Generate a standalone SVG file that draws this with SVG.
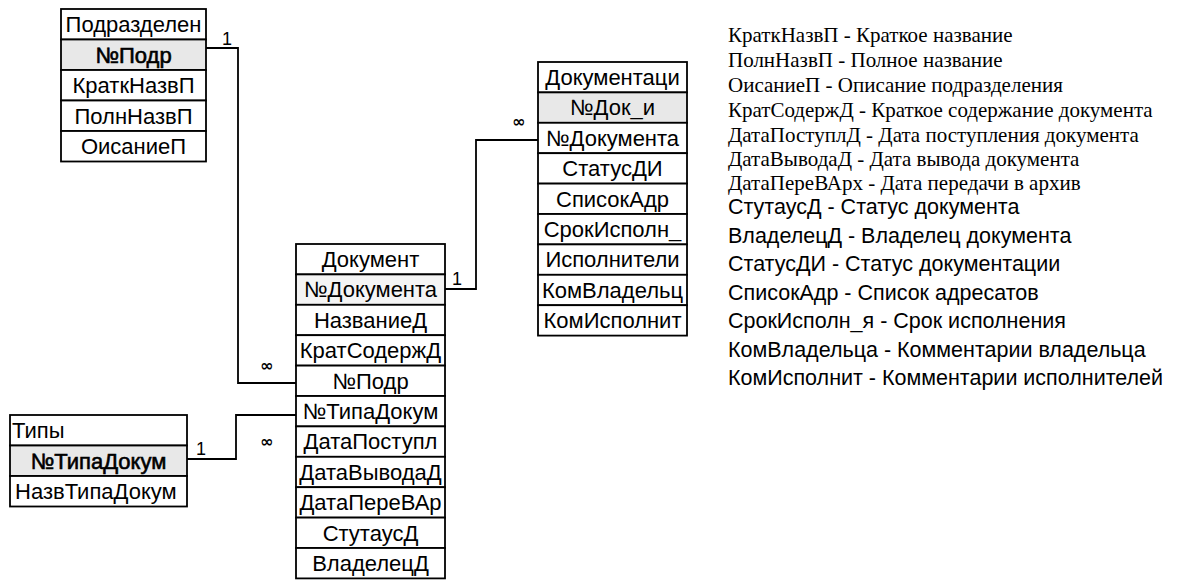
<svg xmlns="http://www.w3.org/2000/svg" width="1187" height="581" viewBox="0 0 1187 581">
<style>
.c{fill:#fff;stroke:#000;stroke-width:1.8}
.k{fill:#e8e8e8;stroke:#000;stroke-width:1.8}
.k2{fill:#f4f4f4;stroke:#000;stroke-width:1.8}
.t{font-family:"Liberation Sans","DejaVu Sans",sans-serif;font-size:22px;fill:#000;text-anchor:middle}
.l{text-anchor:start}
.b{stroke:#000;stroke-width:0.6}
.ln{fill:none;stroke:#000;stroke-width:1.8}
.m{font-family:"Liberation Sans",sans-serif;font-size:18px;fill:#000}
.inf{font-family:"DejaVu Sans",sans-serif;font-size:16px;fill:#000;font-weight:bold}
.s{font-family:"Liberation Serif",serif;font-size:21px;fill:#000}
.a{font-family:"Liberation Sans",sans-serif;font-size:21.5px;fill:#000}
</style>
<rect width="1187" height="581" fill="#fff"/>
<g id="connectors">
<path class="ln" d="M206,48 H238 V383 H296"/>
<path class="ln" d="M445,289 H476 V140 H538"/>
<path class="ln" d="M187,459 H236 V415 H296"/>
<text class="m" x="222" y="45">1</text>
<text class="inf" x="260" y="371">∞</text>
<text class="m" x="452" y="285">1</text>
<text class="inf" x="512" y="127">∞</text>
<text class="m" x="196" y="455">1</text>
<text class="inf" x="260" y="447">∞</text>
</g>
<g id="node-podrazd">
<rect class="c" x="61" y="9" width="145" height="30.5"/>
<rect class="k" x="61" y="39.5" width="145" height="30.5"/>
<rect class="c" x="61" y="70" width="145" height="30.5"/>
<rect class="c" x="61" y="100.5" width="145" height="30.5"/>
<rect class="c" x="61" y="131" width="145" height="30.5"/>
<text class="t" x="133.5" y="32">Подразделен</text>
<text class="t b" x="133.5" y="62.5">№Подр</text>
<text class="t" x="133.5" y="93">КраткНазвП</text>
<text class="t" x="133.5" y="123.5">ПолнНазвП</text>
<text class="t" x="133.5" y="154">ОисаниеП</text>
</g>
<g id="node-dokumentaciya">
<rect class="c" x="538" y="62" width="149" height="30.4"/>
<rect class="k" x="538" y="92.4" width="149" height="30.4"/>
<rect class="c" x="538" y="122.8" width="149" height="30.4"/>
<rect class="c" x="538" y="153.2" width="149" height="30.4"/>
<rect class="c" x="538" y="183.6" width="149" height="30.4"/>
<rect class="c" x="538" y="214" width="149" height="30.4"/>
<rect class="c" x="538" y="244.4" width="149" height="30.4"/>
<rect class="c" x="538" y="274.8" width="149" height="30.4"/>
<rect class="c" x="538" y="305.2" width="149" height="30.4"/>
<text class="t" x="612.5" y="85">Документаци</text>
<text class="t" x="612.5" y="115.4">№Док_и</text>
<text class="t" x="612.5" y="145.8">№Документа</text>
<text class="t" x="612.5" y="176.2">СтатусДИ</text>
<text class="t" x="612.5" y="206.6">СписокАдр</text>
<text class="t" x="612.5" y="237">СрокИсполн_</text>
<text class="t" x="612.5" y="267.4">Исполнители</text>
<text class="t" x="612.5" y="297.8">КомВладельц</text>
<text class="t" x="612.5" y="328.2">КомИсполнит</text>
</g>
<g id="node-dokument">
<rect class="c" x="296" y="244" width="149" height="30.4"/>
<rect class="k2" x="296" y="274.4" width="149" height="30.4"/>
<rect class="c" x="296" y="304.8" width="149" height="30.4"/>
<rect class="c" x="296" y="335.2" width="149" height="30.4"/>
<rect class="c" x="296" y="365.6" width="149" height="30.4"/>
<rect class="c" x="296" y="396" width="149" height="30.4"/>
<rect class="c" x="296" y="426.4" width="149" height="30.4"/>
<rect class="c" x="296" y="456.8" width="149" height="30.4"/>
<rect class="c" x="296" y="487.2" width="149" height="30.4"/>
<rect class="c" x="296" y="517.6" width="149" height="30.4"/>
<rect class="c" x="296" y="548" width="149" height="30.4"/>
<text class="t" x="370.5" y="267">Документ</text>
<text class="t" x="370.5" y="297.4">№Документа</text>
<text class="t" x="370.5" y="327.8">НазваниеД</text>
<text class="t" x="370.5" y="358.2">КратСодержД</text>
<text class="t" x="370.5" y="388.6">№Подр</text>
<text class="t" x="370.5" y="419">№ТипаДокум</text>
<text class="t" x="370.5" y="449.4">ДатаПоступл</text>
<text class="t" x="370.5" y="479.8">ДатаВыводаД</text>
<text class="t" x="370.5" y="510.2">ДатаПереВАр</text>
<text class="t" x="370.5" y="540.6">СтутаусД</text>
<text class="t" x="370.5" y="571">ВладелецД</text>
</g>
<g id="node-tipy">
<rect class="c" x="10" y="415" width="177" height="30.5"/>
<rect class="k" x="10" y="445.5" width="177" height="30.5"/>
<rect class="c" x="10" y="476" width="177" height="30.5"/>
<text class="t l" x="12" y="438">Типы</text>
<text class="t b" x="98.5" y="468.5">№ТипаДокум</text>
<text class="t l" x="15" y="499">НазвТипаДокум</text>
</g>
<g id="legend">
<text class="s" x="728" y="42">КраткНазвП - Краткое название</text>
<text class="s" x="728" y="67">ПолнНазвП - Полное название</text>
<text class="s" x="728" y="92">ОисаниеП - Описание подразделения</text>
<text class="s" x="728" y="117">КратСодержД - Краткое содержание документа</text>
<text class="s" x="728" y="142">ДатаПоступлД - Дата поступления документа</text>
<text class="s" x="728" y="166">ДатаВыводаД - Дата вывода документа</text>
<text class="s" x="728" y="190">ДатаПереВАрх - Дата передачи в архив</text>
<text class="a" x="728" y="214">СтутаусД - Статус документа</text>
<text class="a" x="728" y="242.5">ВладелецД - Владелец документа</text>
<text class="a" x="728" y="271">СтатусДИ - Статус документации</text>
<text class="a" x="728" y="299.5">СписокАдр - Список адресатов</text>
<text class="a" x="728" y="328">СрокИсполн_я - Срок исполнения</text>
<text class="a" x="728" y="356.5">КомВладельца - Комментарии владельца</text>
<text class="a" x="728" y="385">КомИсполнит - Комментарии исполнителей</text>
</g>
</svg>
